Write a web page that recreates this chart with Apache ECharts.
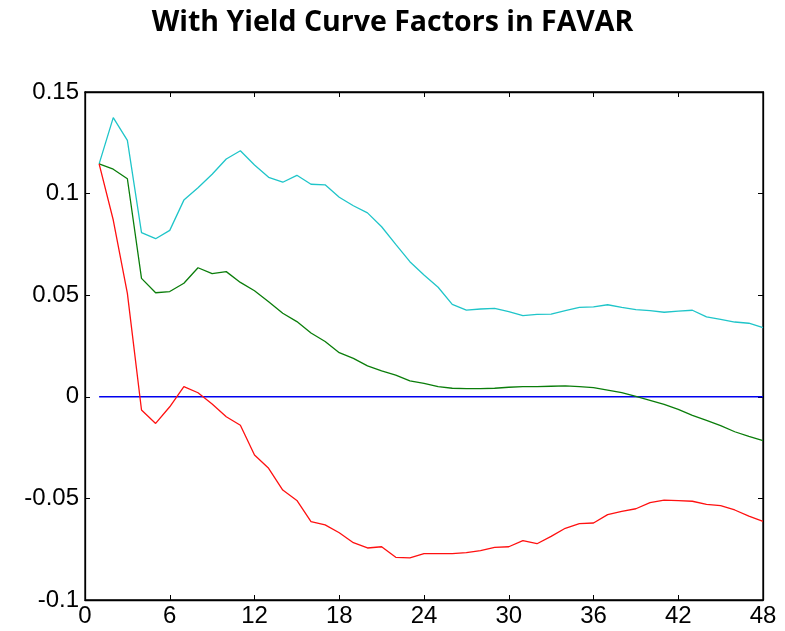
<!DOCTYPE html>
<html>
<head>
<meta charset="utf-8">
<script src="https://cdn.jsdelivr.net/npm/echarts@6/dist/echarts.min.js"></script>
<style>
  html, body { margin: 0; padding: 0; background: #fff; }
  #chart { width: 785px; height: 631px; }
</style>
</head>
<body>
<div id="chart"></div>
<script>
// Horizon (months) 1..48
const months = Array.from({ length: 48 }, (_, i) => i + 1);

// Impulse response bands
const upper = [0.1146, 0.1374, 0.1262, 0.0808, 0.0778, 0.0819, 0.0968, 0.1029, 0.1095, 0.1170,
  0.1211, 0.1141, 0.1080, 0.1056, 0.1090, 0.1046, 0.1043, 0.0982, 0.0940, 0.0905,
  0.0837, 0.0750, 0.0665, 0.0599, 0.0539, 0.0455, 0.0427, 0.0432, 0.0435, 0.0419,
  0.0399, 0.0406, 0.0407, 0.0424, 0.0440, 0.0443, 0.0453, 0.0440, 0.0429, 0.0424,
  0.0416, 0.0422, 0.0426, 0.0393, 0.0381, 0.0368, 0.0362, 0.0340];

const median = [0.1146, 0.1120, 0.1073, 0.0583, 0.0512, 0.0518, 0.0559, 0.0635, 0.0606, 0.0616,
  0.0563, 0.0522, 0.0468, 0.0411, 0.0370, 0.0314, 0.0272, 0.0217, 0.0189, 0.0152,
  0.0128, 0.0107, 0.0078, 0.0066, 0.0050, 0.0042, 0.0040, 0.0040, 0.0042, 0.0047,
  0.0050, 0.0050, 0.0052, 0.0054, 0.0050, 0.0045, 0.0033, 0.0020, 0.0002, -0.0017,
  -0.0037, -0.0062, -0.0091, -0.0116, -0.0142, -0.0172, -0.0195, -0.0216];

const lower = [0.1146, 0.0870, 0.0509, -0.0065, -0.0131, -0.0049, 0.0050, 0.0020, -0.0035, -0.0098,
  -0.0140, -0.0286, -0.0352, -0.0459, -0.0510, -0.0614, -0.0630, -0.0669, -0.0718, -0.0744,
  -0.0738, -0.0790, -0.0793, -0.0772, -0.0772, -0.0772, -0.0767, -0.0757, -0.0741, -0.0738,
  -0.0708, -0.0723, -0.0687, -0.0647, -0.0624, -0.0621, -0.0580, -0.0564, -0.0551, -0.0521,
  -0.0508, -0.0511, -0.0514, -0.0529, -0.0536, -0.0557, -0.0587, -0.0613];

const zeroLine = months.map(() => 0);

const xTicks = [0, 6, 12, 18, 24, 30, 36, 42, 48];
const yTicks = [-0.1, -0.05, 0, 0.05, 0.1, 0.15];

const pairs = arr => months.map((m, i) => [m, arr[i]]);

const chart = echarts.init(document.getElementById('chart'), null, { renderer: 'canvas' });

const tickFont = { fontFamily: 'Liberation Sans', fontSize: 24, color: '#000' };

const lineSeries = (name, data, color, width, z) => ({
  name, type: 'line', data: pairs(data), showSymbol: false, symbol: 'none',
  lineStyle: { color, width }, z, animation: false
});

const axisCommon = {
  type: 'value',
  axisLine: { show: true, onZero: false, lineStyle: { color: '#000', width: 1.3 } },
  axisTick: { show: true, inside: true, length: 5, lineStyle: { color: '#000' } },
  splitLine: { show: false }
};

chart.setOption({
  backgroundColor: '#fff',
  animation: false,
  title: {
    text: 'With Yield Curve Factors in FAVAR',
    left: 'center', top: 3,
    textStyle: { fontFamily: 'Open Sans', fontWeight: 'bold', fontSize: 28.5, color: '#000' }
  },
  grid: {
    left: 85, right: 22, top: 92, bottom: 31,
    show: true, borderColor: '#000', borderWidth: 1.3, backgroundColor: '#fff'
  },
  xAxis: [
    {
      ...axisCommon, min: 0, max: 48, interval: 6, position: 'bottom',
      axisLabel: { ...tickFont, margin: 4, formatter: v => (xTicks.includes(v) ? String(v) : '') }
    },
    {
      ...axisCommon, min: 0, max: 48, interval: 6, position: 'top',
      axisLabel: { show: false }
    }
  ],
  yAxis: [
    {
      ...axisCommon, min: -0.1, max: 0.15, interval: 0.05, position: 'left',
      axisLabel: { ...tickFont, margin: 6, formatter: v => {
        const t = yTicks.find(y => Math.abs(y - v) < 1e-9);
        return t === undefined ? '' : String(t);
      } }
    },
    {
      ...axisCommon, min: -0.1, max: 0.15, interval: 0.05, position: 'right',
      axisLabel: { show: false }
    }
  ],
  series: [
    lineSeries('zero', zeroLine, '#0000ee', 1.6, 2),
    lineSeries('upper', upper, '#1fc5c9', 1.3, 3),
    lineSeries('median', median, '#0a7d0a', 1.3, 3),
    lineSeries('lower', lower, '#ff1010', 1.3, 3)
  ]
});
</script>
</body>
</html>
